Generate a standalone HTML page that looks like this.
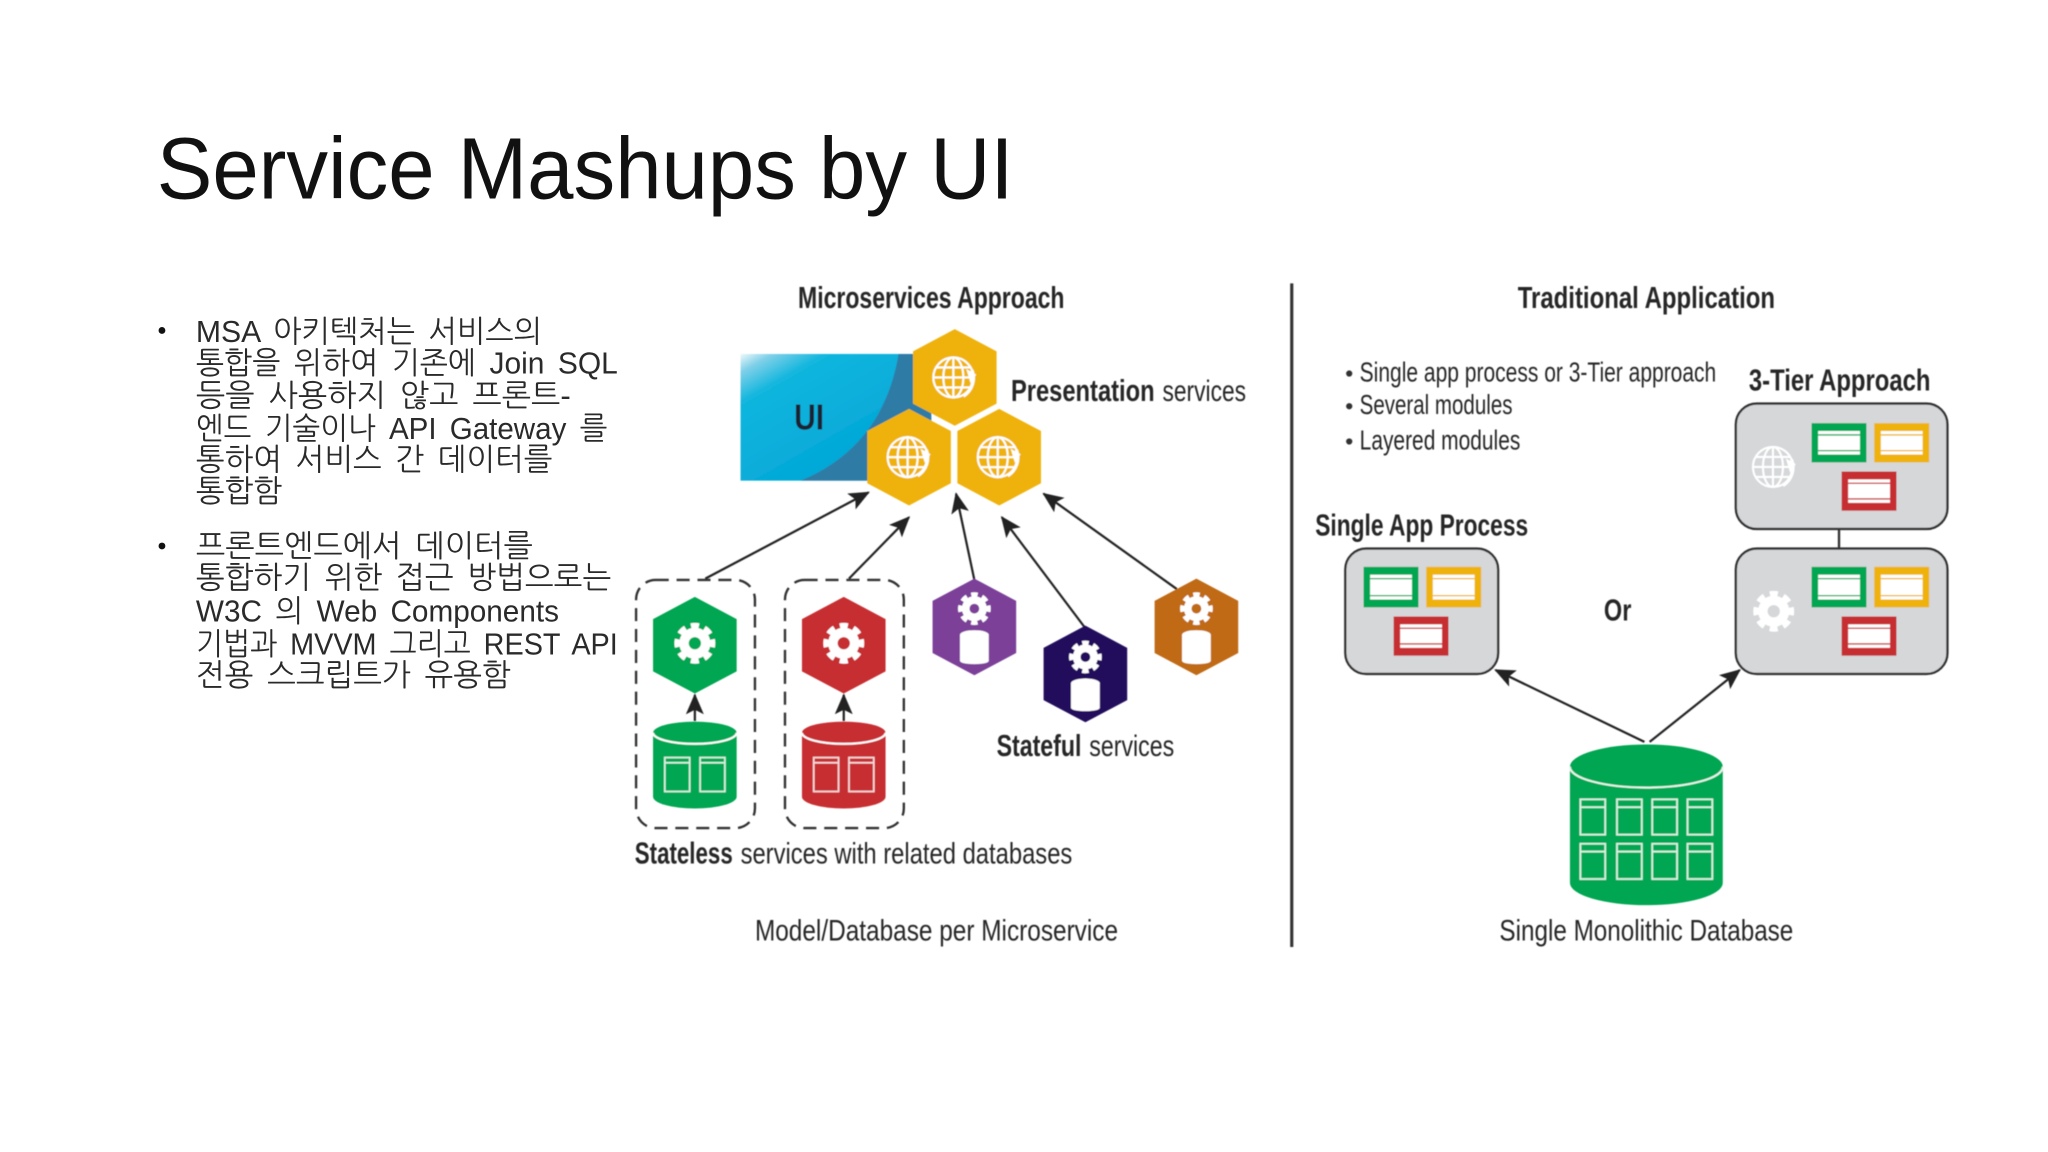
<!DOCTYPE html>
<html lang="ko">
<head>
<meta charset="utf-8">
<title>Service Mashups by UI</title>
<style>
html,body{margin:0;padding:0;background:#fff;width:2048px;height:1152px;overflow:hidden}
svg{display:block}
.t{font-family:"Liberation Sans",sans-serif;fill:#262626;font-size:23px}
.b{font-weight:bold;font-size:23.5px}
.k{font-family:"Liberation Sans","NanumGothic","Noto Sans CJK KR",sans-serif;fill:#2a2a2a;font-size:23.5px;word-spacing:4px}
</style>
</head>
<body>
<svg width="2048" height="1152" viewBox="0 0 1568 882" xmlns="http://www.w3.org/2000/svg">
<defs>
<filter id="soft" x="-2%" y="-2%" width="104%" height="104%"><feGaussianBlur stdDeviation="0.45"/></filter>
<marker id="ah" markerUnits="userSpaceOnUse" viewBox="0 0 14 12" refX="13" refY="6" markerWidth="16" markerHeight="13.7" orient="auto">
  <path d="M0,0 L14,6 L0,12 L3,6 Z" fill="#222"/>
</marker>
<linearGradient id="uig" x1="0" y1="0" x2="0.6" y2="0.7">
  <stop offset="0" stop-color="#eef8fb"/>
  <stop offset="0.12" stop-color="#7fd0e8"/>
  <stop offset="0.32" stop-color="#12b6de"/>
  <stop offset="1" stop-color="#04a9d8"/>
</linearGradient>
<symbol id="gear" viewBox="-16 -16 32 32" overflow="visible">
  <circle r="7.6" fill="none" stroke="#fff" stroke-width="6.6"/>
  <circle r="12" fill="none" stroke="#fff" stroke-width="4.6" stroke-dasharray="5.4 4.02" stroke-dashoffset="2.7"/>
</symbol>
<symbol id="globe" viewBox="-16 -16 32 32" overflow="visible">
  <g fill="none" stroke="#fff" stroke-width="1.5">
    <circle cx="-1" r="14"/>
    <ellipse cx="-1" rx="7" ry="14"/>
    <path d="M-1,-14 V14 M-15,0 H13 M-13,-7 H11 M-13,7 H11"/>
    <path d="M12,-5 A15,15 0 0 1 6,13" stroke-width="2.4"/>
  </g>
  <path d="M8,-6 L15,-2 L11,4 Z" fill="#fff"/>
</symbol>
<polygon id="hex" points="0,-37 32,-20 32,20 0,37 -32,20 -32,-20"/>
</defs>

<rect width="1568" height="882" fill="#fff"/>

<!-- Title -->
<text x="120" y="152" textLength="656" lengthAdjust="spacingAndGlyphs" font-family="'Liberation Sans',sans-serif" font-size="67" fill="#111">Service Mashups by UI</text>

<!-- Korean bullets -->
<circle cx="124" cy="253" r="2.6" fill="#111"/>
<text class="k" x="150" y="262" textLength="265" lengthAdjust="spacingAndGlyphs">MSA 아키텍처는 서비스의</text>
<text class="k" x="150" y="286" textLength="323" lengthAdjust="spacingAndGlyphs">통합을 위하여 기존에 Join SQL</text>
<text class="k" x="150" y="311" textLength="287" lengthAdjust="spacingAndGlyphs">등을 사용하지 않고 프론트-</text>
<text class="k" x="150" y="336" textLength="315" lengthAdjust="spacingAndGlyphs">엔드 기술이나 API Gateway 를</text>
<text class="k" x="150" y="360" textLength="273" lengthAdjust="spacingAndGlyphs">통하여 서비스 간 데이터를</text>
<text class="k" x="150" y="384" textLength="66" lengthAdjust="spacingAndGlyphs">통합함</text>
<circle cx="124" cy="418" r="2.6" fill="#111"/>
<text class="k" x="150" y="426" textLength="258" lengthAdjust="spacingAndGlyphs">프론트엔드에서 데이터를</text>
<text class="k" x="150" y="450" textLength="318" lengthAdjust="spacingAndGlyphs">통합하기 위한 접근 방법으로는</text>
<text class="k" x="150" y="476" textLength="278" lengthAdjust="spacingAndGlyphs">W3C 의 Web Components</text>
<text class="k" x="150" y="501" textLength="323" lengthAdjust="spacingAndGlyphs">기법과 MVVM 그리고 REST API</text>
<text class="k" x="150" y="525" textLength="241" lengthAdjust="spacingAndGlyphs">전용 스크립트가 유용함</text>

<g filter="url(#soft)">
<!-- Headers -->
<text class="t b" x="611" y="236" textLength="204" lengthAdjust="spacingAndGlyphs">Microservices Approach</text>
<text class="t b" x="1162" y="236" textLength="197" lengthAdjust="spacingAndGlyphs">Traditional Application</text>

<!-- UI block -->
<rect x="567" y="271" width="146" height="97" fill="url(#uig)"/>
<path d="M613,368 Q676,342 688,271 L713,271 L713,368 Z" fill="#2f7ba6"/>
<text class="t b" x="608" y="329" textLength="23" lengthAdjust="spacingAndGlyphs" style="font-size:28px;fill:#1a2430">UI</text>

<!-- Presentation hexes -->
<use href="#hex" x="731" y="289" fill="#efb211"/>
<use href="#hex" x="696" y="350" fill="#efb211"/>
<use href="#hex" x="765" y="350" fill="#efb211"/>
<use href="#globe" x="713.5" y="271.5" width="35" height="35"/>
<use href="#globe" x="678.5" y="332.5" width="35" height="35"/>
<use href="#globe" x="747.5" y="332.5" width="35" height="35"/>

<text class="t b" x="774" y="307" textLength="110" lengthAdjust="spacingAndGlyphs">Presentation</text>
<text class="t" x="890" y="307" textLength="64" lengthAdjust="spacingAndGlyphs">services</text>

<!-- Arrows left -->
<g stroke="#222" stroke-width="1.7" fill="none" marker-end="url(#ah)">
  <line x1="540" y1="443" x2="665" y2="377"/>
  <line x1="650" y1="443" x2="696" y2="396"/>
  <line x1="746" y1="444" x2="732" y2="378"/>
  <line x1="831" y1="481" x2="767" y2="396"/>
  <line x1="901" y1="451" x2="799" y2="378"/>
  <line x1="532" y1="552" x2="532" y2="532"/>
  <line x1="646" y1="552" x2="646" y2="532"/>
</g>

<!-- Dashed groups -->
<rect x="487" y="444" width="91" height="190" rx="15" fill="none" stroke="#333" stroke-width="1.8" stroke-dasharray="10 6"/>
<rect x="601" y="444" width="91" height="190" rx="15" fill="none" stroke="#333" stroke-width="1.8" stroke-dasharray="10 6"/>

<!-- Stateless hexes -->
<use href="#hex" x="532" y="494" fill="#05a651"/>
<use href="#hex" x="646" y="494" fill="#c62f33"/>
<use href="#gear" x="514.5" y="475" width="35" height="35"/>
<use href="#gear" x="628.5" y="475" width="35" height="35"/>

<!-- Green small DB -->
<g>
  <path d="M500,561 A32,8.5 0 0 1 564,561 V610 A32,9 0 0 1 500,610 Z" fill="#05a651"/>
  <path d="M500,561 A32,8.5 0 0 0 564,561" fill="none" stroke="#fff" stroke-width="1.6"/>
  <g fill="none" stroke="#d9f2e3" stroke-width="1.3">
    <rect x="509" y="580" width="19" height="26"/><path d="M509,584 H528"/>
    <rect x="536" y="580" width="19" height="26"/><path d="M536,584 H555"/>
  </g>
</g>
<!-- Red small DB -->
<g>
  <path d="M614,561 A32,8.5 0 0 1 678,561 V610 A32,9 0 0 1 614,610 Z" fill="#c62f33"/>
  <path d="M614,561 A32,8.5 0 0 0 678,561" fill="none" stroke="#fff" stroke-width="1.6"/>
  <g fill="none" stroke="#f6dcdc" stroke-width="1.3">
    <rect x="623" y="580" width="19" height="26"/><path d="M623,584 H642"/>
    <rect x="650" y="580" width="19" height="26"/><path d="M650,584 H669"/>
  </g>
</g>

<!-- Stateful hexes -->
<use href="#hex" x="746" y="480" fill="#7c4199"/>
<use href="#hex" x="831" y="516" fill="#24095c"/>
<use href="#hex" x="916" y="480" fill="#c06a15"/>
<use href="#gear" x="732" y="452" width="28" height="28"/>
<use href="#gear" x="817" y="489" width="28" height="28"/>
<use href="#gear" x="902" y="452" width="28" height="28"/>
<g fill="#fff">
  <rect x="735" y="486" width="22" height="20" /><ellipse cx="746" cy="486" rx="11" ry="3.5"/><ellipse cx="746" cy="506" rx="11" ry="2.5"/>
  <rect x="820" y="523" width="22" height="19" /><ellipse cx="831" cy="523" rx="11" ry="3.5"/><ellipse cx="831" cy="542" rx="11" ry="2.5"/>
  <rect x="905" y="486" width="22" height="20" /><ellipse cx="916" cy="486" rx="11" ry="3.5"/><ellipse cx="916" cy="506" rx="11" ry="2.5"/>
</g>

<text class="t b" x="763" y="579" textLength="65" lengthAdjust="spacingAndGlyphs">Stateful</text>
<text class="t" x="834" y="579" textLength="65" lengthAdjust="spacingAndGlyphs">services</text>
<text class="t b" x="486" y="661" textLength="75" lengthAdjust="spacingAndGlyphs">Stateless</text>
<text class="t" x="567" y="661" textLength="254" lengthAdjust="spacingAndGlyphs">services with related databases</text>
<text class="t" x="578" y="720" textLength="278" lengthAdjust="spacingAndGlyphs">Model/Database per Microservice</text>

<!-- Divider -->
<line x1="989" y1="217" x2="989" y2="725" stroke="#333" stroke-width="2.4"/>

<!-- Traditional bullets -->
<g fill="#333">
  <circle cx="1033" cy="286" r="2.4"/><circle cx="1033" cy="311" r="2.4"/><circle cx="1033" cy="338" r="2.4"/>
</g>
<text class="t" x="1041" y="292" textLength="273" lengthAdjust="spacingAndGlyphs" style="font-size:21.5px">Single app process or 3-Tier approach</text>
<text class="t" x="1041" y="317" textLength="117" lengthAdjust="spacingAndGlyphs" style="font-size:21.5px">Several modules</text>
<text class="t" x="1041" y="344" textLength="123" lengthAdjust="spacingAndGlyphs" style="font-size:21.5px">Layered modules</text>

<text class="t b" x="1339" y="299" textLength="139" lengthAdjust="spacingAndGlyphs">3-Tier Approach</text>
<text class="t b" x="1007" y="410" textLength="163" lengthAdjust="spacingAndGlyphs">Single App Process</text>
<text class="t b" x="1228" y="475" textLength="21" lengthAdjust="spacingAndGlyphs">Or</text>

<!-- Boxes -->
<line x1="1408" y1="405" x2="1408" y2="420" stroke="#333" stroke-width="1.8"/>
<g fill="#d5d7d9" stroke="#333" stroke-width="1.8">
  <rect x="1030" y="420" width="117" height="96" rx="16"/>
  <rect x="1329" y="309" width="162" height="96" rx="16"/>
  <rect x="1329" y="420" width="162" height="96" rx="16"/>
</g>

<!-- Modules: single app -->
<g>
  <rect x="1044" y="434" width="42" height="31" fill="#05a651"/><rect x="1049" y="440" width="32" height="19" fill="#fff"/><path d="M1049,443 H1081 M1049,456 H1081" stroke="#05a651" stroke-width="1"/>
  <rect x="1092" y="434" width="42" height="31" fill="#efb211"/><rect x="1097" y="440" width="32" height="19" fill="#fff"/><path d="M1097,443 H1129 M1097,456 H1129" stroke="#efb211" stroke-width="1"/>
  <rect x="1067" y="472" width="42" height="30" fill="#c62f33"/><rect x="1072" y="478" width="32" height="18" fill="#fff"/><path d="M1072,481 H1104 M1072,493 H1104" stroke="#c62f33" stroke-width="1"/>
</g>
<!-- Modules: tier top -->
<g>
  <rect x="1387" y="324" width="42" height="30" fill="#05a651"/><rect x="1392" y="330" width="32" height="18" fill="#fff"/><path d="M1392,333 H1424 M1392,345 H1424" stroke="#05a651" stroke-width="1"/>
  <rect x="1435" y="324" width="42" height="30" fill="#efb211"/><rect x="1440" y="330" width="32" height="18" fill="#fff"/><path d="M1440,333 H1472 M1440,345 H1472" stroke="#efb211" stroke-width="1"/>
  <rect x="1410" y="361" width="42" height="30" fill="#c62f33"/><rect x="1415" y="367" width="32" height="18" fill="#fff"/><path d="M1415,370 H1447 M1415,382 H1447" stroke="#c62f33" stroke-width="1"/>
</g>
<!-- Modules: tier bottom -->
<g>
  <rect x="1387" y="434" width="42" height="31" fill="#05a651"/><rect x="1392" y="440" width="32" height="19" fill="#fff"/><path d="M1392,443 H1424 M1392,456 H1424" stroke="#05a651" stroke-width="1"/>
  <rect x="1435" y="434" width="42" height="31" fill="#efb211"/><rect x="1440" y="440" width="32" height="19" fill="#fff"/><path d="M1440,443 H1472 M1440,456 H1472" stroke="#efb211" stroke-width="1"/>
  <rect x="1410" y="472" width="42" height="30" fill="#c62f33"/><rect x="1415" y="478" width="32" height="18" fill="#fff"/><path d="M1415,481 H1447 M1415,493 H1447" stroke="#c62f33" stroke-width="1"/>
</g>
<use href="#globe" x="1341" y="340" width="35" height="35"/>
<use href="#gear" x="1340.5" y="450.5" width="35" height="35"/>

<!-- Arrows to boxes -->
<g stroke="#222" stroke-width="1.7" fill="none" marker-end="url(#ah)">
  <line x1="1259" y1="568" x2="1145" y2="513"/>
  <line x1="1263" y1="568" x2="1332" y2="513"/>
</g>

<!-- Monolithic DB -->
<path d="M1202,587 A58.5,17 0 0 1 1319,587 V676 A58.5,17 0 0 1 1202,676 Z" fill="#05a651"/>
<path d="M1202,587 A58.5,16 0 0 0 1319,587" fill="none" stroke="#e6f7ed" stroke-width="1.5"/>
<g fill="none" stroke="#d9f2e3" stroke-width="1.4">
  <rect x="1210" y="612" width="19" height="27"/><path d="M1210,618 H1229"/>
  <rect x="1238" y="612" width="19" height="27"/><path d="M1238,618 H1257"/>
  <rect x="1265" y="612" width="19" height="27"/><path d="M1265,618 H1284"/>
  <rect x="1292" y="612" width="19" height="27"/><path d="M1292,618 H1311"/>
  <rect x="1210" y="646" width="19" height="27"/><path d="M1210,652 H1229"/>
  <rect x="1238" y="646" width="19" height="27"/><path d="M1238,652 H1257"/>
  <rect x="1265" y="646" width="19" height="27"/><path d="M1265,652 H1284"/>
  <rect x="1292" y="646" width="19" height="27"/><path d="M1292,652 H1311"/>
</g>
<text class="t" x="1148" y="720" textLength="225" lengthAdjust="spacingAndGlyphs">Single Monolithic Database</text>
</g>
</svg>
</body>
</html>
